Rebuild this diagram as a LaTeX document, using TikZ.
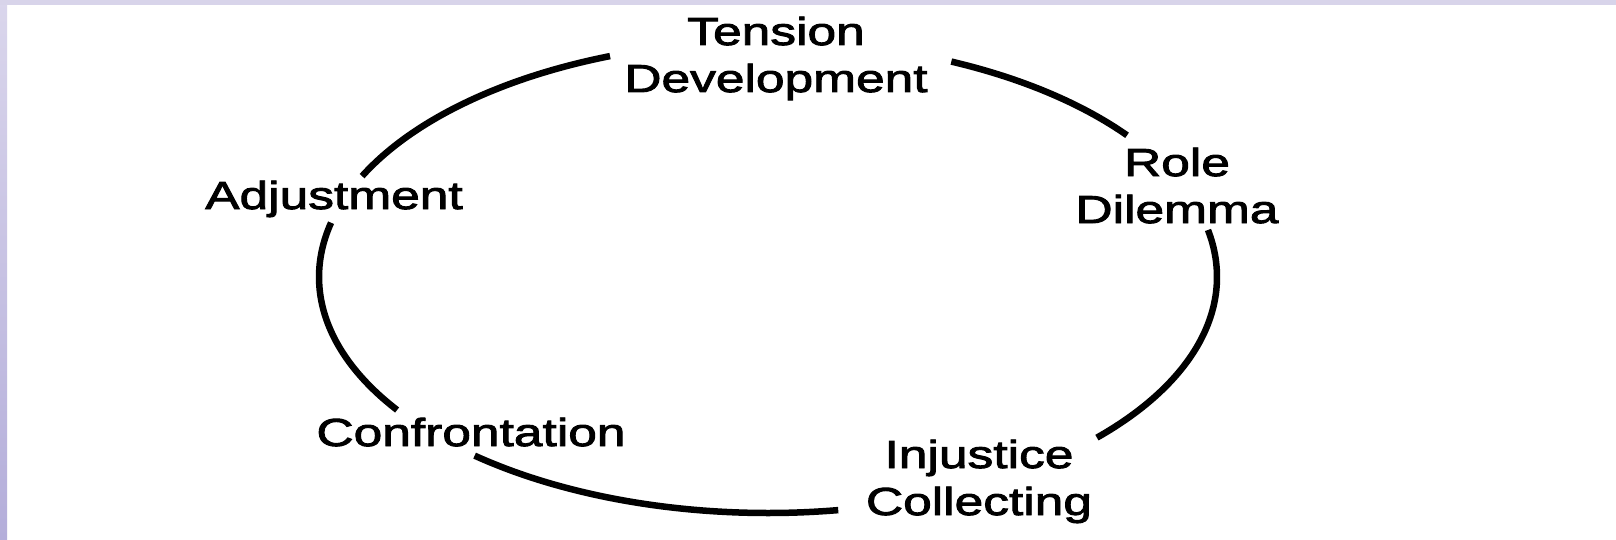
\documentclass[tikz,border=0pt]{standalone}
\usepackage{fontspec}
\setmainfont{Liberation Sans}[FakeStretch=1.32,FakeBold=2.4]
\definecolor{framelight}{RGB}{216,212,234}
\definecolor{frametop}{RGB}{218,214,236}
\definecolor{framedark}{RGB}{180,174,218}
\begin{document}
\begin{tikzpicture}[x=1pt,y=1pt,
  stage/.style={align=center,inner sep=0pt,anchor=base,
    font=\fontsize{39}{47}\selectfont},
  cyclearc/.style={line width=6.5pt,black}]
  % canvas and frame strips
  \useasboundingbox (0,0) rectangle (1616,539);
  \fill[white] (0,0) rectangle (1616,539);
  \shade[top color=frametop,bottom color=framedark] (0,0) rectangle (7,539);
  \fill[framelight] (0,534) rectangle (1616,539);

  % stage labels (anchored at the baseline of their last line)
  \node[stage] (tension)   at (776,447)  {Tension\\Development};
  \node[stage] (role)      at (1177,316) {Role\\Dilemma};
  \node[stage] (injustice) at (979,24)   {Injustice\\Collecting};
  \node[stage] (confront)  at (471,93)   {Confrontation};
  \node[stage] (adjust)    at (334,330)  {Adjustment};

  % the cycle: pieces of one ellipse between the labels
  \coordinate (c) at (768,262);
  \draw[cyclearc] ([shift={(154.7:449pt and 236pt)}]c)
     arc[start angle=154.7,end angle=110.6,x radius=449pt,y radius=236pt];
  \draw[cyclearc] ([shift={(65.9:449pt and 236pt)}]c)
     arc[start angle=65.9,end angle=36.9,x radius=449pt,y radius=236pt];
  \draw[cyclearc] ([shift={(11.5:449pt and 236pt)}]c)
     arc[start angle=11.5,end angle=-42.9,x radius=449pt,y radius=236pt];
  \draw[cyclearc] ([shift={(-81:449pt and 236pt)}]c)
     arc[start angle=-81,end angle=-130.8,x radius=449pt,y radius=236pt];
  \draw[cyclearc] ([shift={(-145.7:449pt and 236pt)}]c)
     arc[start angle=-145.7,end angle=-193.3,x radius=449pt,y radius=236pt];
\end{tikzpicture}
\end{document}
